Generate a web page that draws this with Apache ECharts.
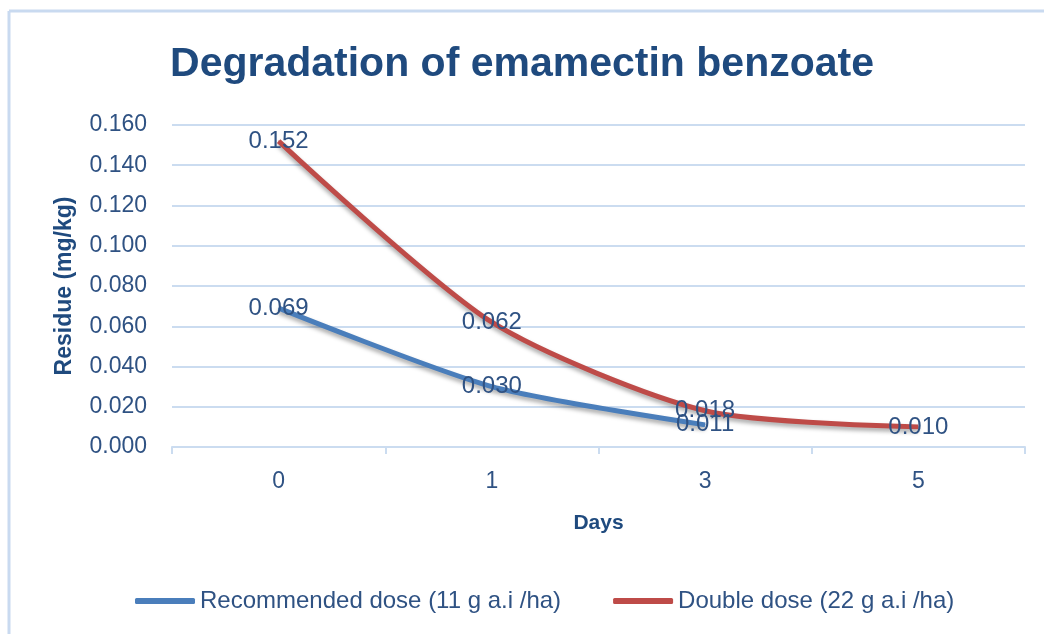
<!DOCTYPE html>
<html>
<head>
<meta charset="utf-8">
<script src="https://cdn.jsdelivr.net/npm/echarts@6/dist/echarts.min.js"></script>
<style>
  html, body { margin: 0; padding: 0; background: #fff; }
  #chart { width: 1044px; height: 634px; }
</style>
</head>
<body>
<div id="chart"></div>
<script>
// data
const days = ['0', '1', '3', '5'];
const recommendedDose = [0.069, 0.030, 0.011, null];
const doubleDose = [0.152, 0.062, 0.018, 0.010];
const yTicks = { min: 0, max: 0.16, interval: 0.02 };

const textBlue = '#2F5283';
const gridBlue = '#CBDCF0';
const font = 'Liberation Sans';

function lineSeries(name, data, color) {
    return {
        name: name,
        type: 'line',
        data: data,
        smooth: 0.25,
        symbol: 'circle',
        symbolSize: 1,
        showSymbol: true,
        itemStyle: { color: color },
        lineStyle: {
            color: color,
            width: 5,
            shadowColor: 'rgba(0,0,0,0.35)',
            shadowBlur: 4,
            shadowOffsetY: 3
        },
        label: {
            show: true,
            position: 'inside',
            formatter: (p) => p.value.toFixed(3),
            color: textBlue,
            fontFamily: font,
            fontSize: 24
        },
        z: 2
    };
}

const myChart = echarts.init(document.getElementById('chart'));
myChart.setOption({
    animation: false,
    title: {
        text: 'Degradation of emamectin benzoate',
        left: 'center',
        top: 39,
        textStyle: { color: '#1F4A7E', fontFamily: font, fontWeight: 'bold', fontSize: 41 }
    },
    legend: {
        bottom: 16,
        left: 130,
        itemWidth: 60,
        itemHeight: 6,
        itemGap: 52,
        icon: 'roundRect',
        textStyle: { color: textBlue, fontFamily: font, fontSize: 24 },
        data: ['Recommended dose (11 g a.i /ha)', 'Double dose (22 g a.i /ha)']
    },
    grid: { left: 172, right: 19, top: 125, bottom: 187 },
    xAxis: {
        type: 'category',
        data: days,
        boundaryGap: true,
        name: 'Days',
        nameLocation: 'middle',
        nameGap: 66,
        nameTextStyle: { color: '#1F4A7E', fontFamily: font, fontWeight: 'bold', fontSize: 21 },
        axisLine: { lineStyle: { color: gridBlue, width: 2 } },
        axisTick: { show: true, length: 7, lineStyle: { color: gridBlue, width: 2 } },
        axisLabel: { color: textBlue, fontFamily: font, fontSize: 23, margin: 23 }
    },
    yAxis: {
        type: 'value',
        min: yTicks.min,
        max: yTicks.max,
        interval: yTicks.interval,
        name: 'Residue (mg/kg)',
        nameLocation: 'middle',
        nameGap: 96,
        nameRotate: 90,
        nameTextStyle: { color: '#1F4A7E', fontFamily: font, fontWeight: 'bold', fontSize: 23 },
        axisLine: { show: false },
        axisTick: { show: false },
        splitLine: { lineStyle: { color: gridBlue, width: 2 } },
        axisLabel: {
            color: textBlue, fontFamily: font, fontSize: 23, margin: 25,
            formatter: (v) => v.toFixed(3)
        }
    },
    graphic: [
        { type: 'line', shape: { x1: 9, y1: 11, x2: 1044, y2: 11 }, style: { stroke: '#C9DAF0', lineWidth: 3 } },
        { type: 'line', shape: { x1: 9, y1: 11, x2: 9, y2: 634 }, style: { stroke: '#C9DAF0', lineWidth: 3 } }
    ],
    series: [
        lineSeries('Recommended dose (11 g a.i /ha)', recommendedDose, '#4A7EBB'),
        lineSeries('Double dose (22 g a.i /ha)', doubleDose, '#BE4B48')
    ]
});
</script>
</body>
</html>
